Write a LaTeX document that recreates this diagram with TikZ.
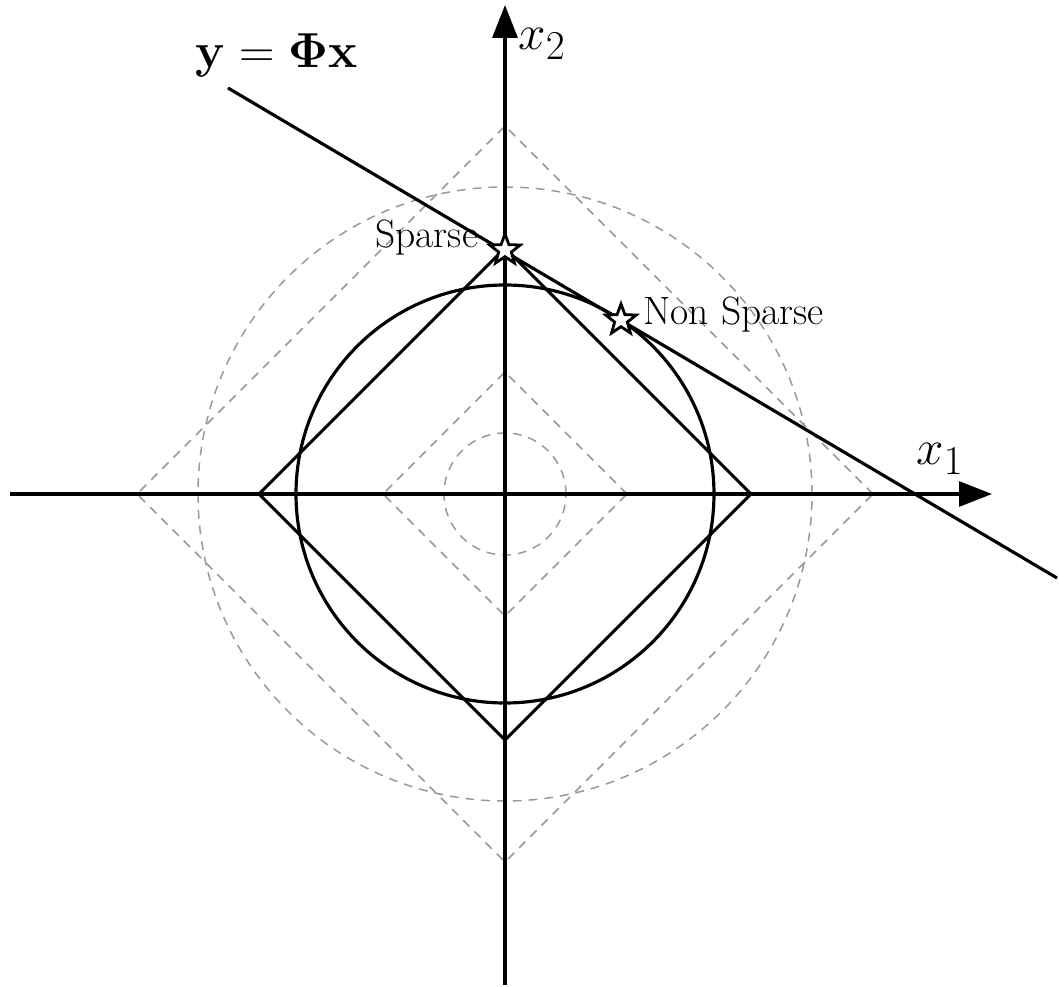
\documentclass[tikz,border=0pt]{standalone}
\usetikzlibrary{arrows.meta,shapes.geometric}
\begin{document}
\begin{tikzpicture}[x=0.02cm,y=0.02cm,
  solid/.style={line width=1.8pt,black},
  guide/.style={line width=0.85pt,draw=black!40,dash pattern=on 5pt off 4pt},
  axis/.style={line width=1.8pt,-{Triangle[length=0.66cm,width=0.5cm]}},
  starmark/.style={star,star points=5,star point ratio=2.4,minimum size=0.64cm,inner sep=0pt,draw=black,fill=white,line width=1.6pt},
  mathlab/.style={inner sep=0pt,anchor=base west,font=\Huge,scale=1.125},
  txtlab/.style={inner sep=0pt,anchor=base west,font=\fontsize{22.5}{27}\selectfont}]
\useasboundingbox (-505,-493) rectangle (554,494);
% dashed guides
\draw[guide] (0,0) circle (61);
\draw[guide] (122,0) -- (0,122) -- (-122,0) -- (0,-122) -- cycle;
\draw[guide] (0,0) circle (307);
\draw[guide] (368,0) -- (0,368) -- (-368,0) -- (0,-368) -- cycle;
% solid balls
\draw[solid] (0,0) circle (209);
\draw[solid] (246,0) -- (0,246) -- (-246,0) -- (0,-246) -- cycle;
% axes
\coordinate (xl) at (-495,0);
\coordinate (xr) at (487,0);
\coordinate (yb) at (0,-491);
\coordinate (yt) at (0,489);
\draw[axis] (xl) -- (xr);
\draw[axis] (yb) -- (yt);
% constraint line
\coordinate (ls) at (-277,406);
\coordinate (le) at (552,-84);
\draw[solid] (ls) -- (le);
% stars
\node[starmark] (sp) at (0,244) {};
\node[starmark] (nsp) at (116,174) {};
% labels
\node[mathlab] (lx2) at (13,444) {$x_2$};
\node[mathlab] (lx1) at (411,29) {$x_1$};
\node[mathlab] (leq) at (-310,426) {$\mathbf{y}=\mathbf{\Phi}\mathbf{x}$};
\node[txtlab] (lsp) at (-130,246) {Sparse};
\node[txtlab] (lnsp) at (138,169) {Non Sparse};
\end{tikzpicture}
\end{document}
